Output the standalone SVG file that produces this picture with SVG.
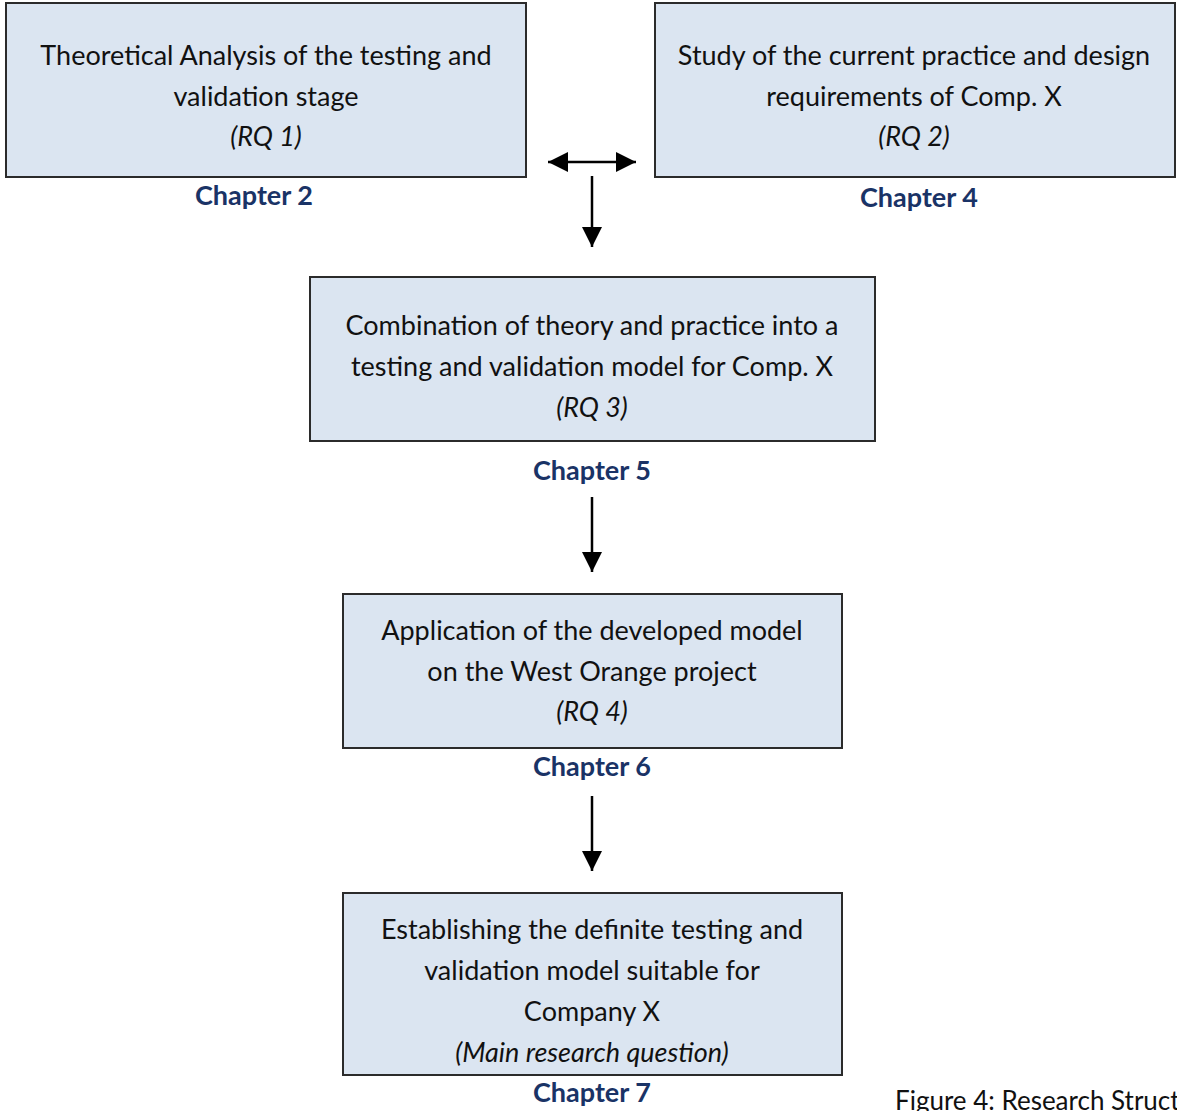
<svg xmlns="http://www.w3.org/2000/svg" width="1177" height="1111" viewBox="0 0 1177 1111">
  <defs>
    <marker id="tri" viewBox="0 0 20 20" refX="20" refY="10" markerWidth="20" markerHeight="20" markerUnits="userSpaceOnUse" orient="auto-start-reverse">
      <path d="M0,0 L20,10 L0,20 z" fill="#000"/>
    </marker>
    <clipPath id="mainClip"><rect x="343" y="893" width="499" height="182"/></clipPath>
  </defs>
  <style>
    .box { fill: #dbe5f1; stroke: #2b2b2b; stroke-width: 2; }
    .t { font-family: Lato, "Liberation Sans", sans-serif; font-size: 27px; fill: #111; text-anchor: middle; }
    .i { font-style: italic; }
    .ch { font-family: Lato, "Liberation Sans", sans-serif; font-size: 27px; font-weight: bold; fill: #1a3366; text-anchor: middle; }
    .cap { font-family: Lato, "Liberation Sans", sans-serif; font-size: 26px; fill: #111; }
    .edge { stroke: #000; stroke-width: 2.5; fill: none; marker-end: url(#tri); }
  </style>
  <rect width="1177" height="1111" fill="#fff"/>

  <g id="node-rq1">
    <rect class="box" x="6" y="3" width="520" height="174"/>
    <text class="t" x="266" y="65">Theoretical Analysis of the testing and</text>
    <text class="t" x="266" y="106">validation stage</text>
    <text class="t i" x="266" y="146">(RQ 1)</text>
    <text class="ch" x="254" y="205">Chapter 2</text>
  </g>

  <g id="node-rq2">
    <rect class="box" x="655" y="3" width="520" height="174"/>
    <text class="t" x="914" y="65">Study of the current practice and design</text>
    <text class="t" x="914" y="106">requirements of Comp. X</text>
    <text class="t i" x="914" y="146">(RQ 2)</text>
    <text class="ch" x="919" y="207">Chapter 4</text>
  </g>

  <g id="node-rq3">
    <rect class="box" x="310" y="277" width="565" height="164"/>
    <text class="t" x="592" y="335">Combination of theory and practice into a</text>
    <text class="t" x="592" y="376">testing and validation model for Comp. X</text>
    <text class="t i" x="592" y="417">(RQ 3)</text>
    <text class="ch" x="592" y="480">Chapter 5</text>
  </g>

  <g id="node-rq4">
    <rect class="box" x="343" y="594" width="499" height="154"/>
    <text class="t" x="592" y="640">Application of the developed model</text>
    <text class="t" x="592" y="681">on the West Orange project</text>
    <text class="t i" x="592" y="721">(RQ 4)</text>
    <text class="ch" x="592" y="776">Chapter 6</text>
  </g>

  <g id="node-main">
    <rect class="box" x="343" y="893" width="499" height="182"/>
    <g clip-path="url(#mainClip)">
      <text class="t" x="592" y="939">Establishing the definite testing and</text>
      <text class="t" x="592" y="980">validation model suitable for</text>
      <text class="t" x="592" y="1021">Company X</text>
      <text class="t i" x="592" y="1062">(Main research question)</text>
    </g>
    <rect x="343" y="893" width="499" height="182" fill="none" stroke="#2b2b2b" stroke-width="2"/>
    <text class="ch" x="592" y="1102">Chapter 7</text>
  </g>

  <g id="connectors">
    <line class="edge" x1="548" y1="162" x2="636" y2="162" marker-start="url(#tri)"/>
    <line class="edge" x1="592" y1="176" x2="592" y2="247"/>
    <line class="edge" x1="592" y1="497" x2="592" y2="572"/>
    <line class="edge" x1="592" y1="796" x2="592" y2="871"/>
  </g>

  <text class="cap" x="895" y="1110">Figure 4: Research Structure</text>
</svg>
